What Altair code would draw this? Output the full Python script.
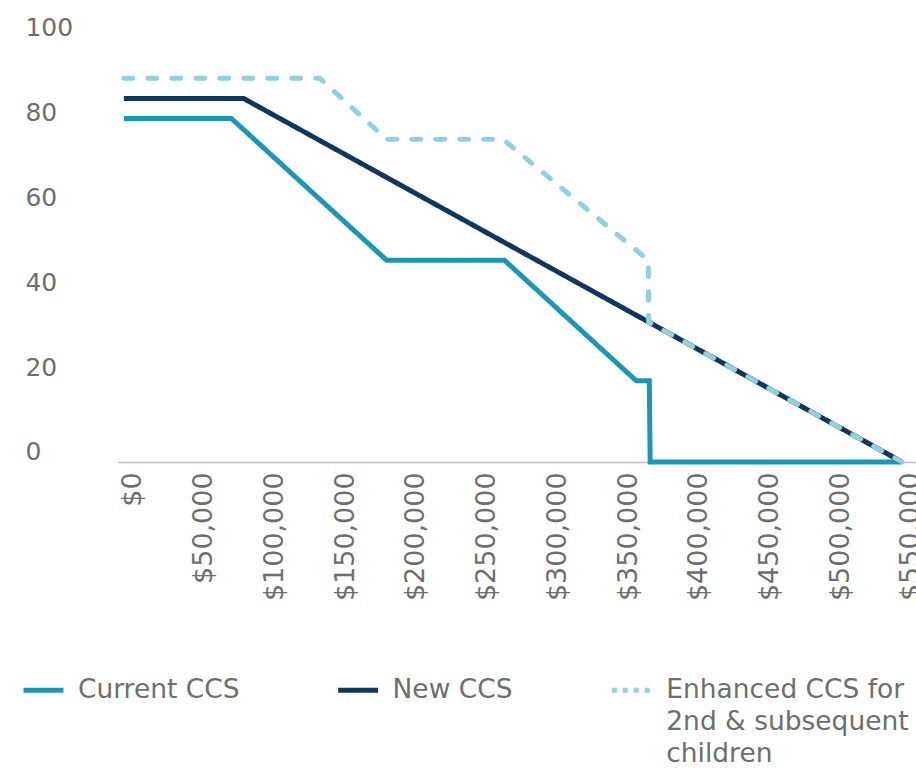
import altair as alt
import pandas as pd

# Series names
series_names = ["Current CCS", "New CCS", "Enhanced CCS for 2nd & subsequent children"]
series_colors = ["#1b97b6", "#0f365f", "#8fd1df"]

# Current CCS (family income $, subsidy %)
current_x = [0, 76000, 185700, 269000, 362200, 371400, 372000, 550000]
current_y = [80.9, 80.9, 47.5, 47.5, 19.1, 19.1, 0, 0]

# New CCS
new_x = [0, 84700, 550000]
new_y = [85.6, 85.6, 0]

# Enhanced CCS for 2nd & subsequent children
enh_x = [0, 138400, 185700, 268000, 370700, 370900, 550000]
enh_y = [90.4, 90.4, 76.0, 76.0, 47.5, 32.9, 0]

# Axis ticks
x_ticks = [0, 50000, 100000, 150000, 200000, 250000, 300000, 350000, 400000, 450000, 500000, 550000]
y_ticks = [0, 20, 40, 60, 80, 100]

rows = []
for name, xs, ys in [(series_names[0], current_x, current_y),
                     (series_names[1], new_x, new_y),
                     (series_names[2], enh_x, enh_y)]:
    for i, (xv, yv) in enumerate(zip(xs, ys)):
        rows.append({"series": name, "income": xv, "pct": yv, "order": i})
df = pd.DataFrame(rows)

FONT = "DejaVu Sans"
GREY = "#6e6e6e"
# every legend label gets 3 lines (zero-width padding lines) so all entries
# share the same height and the first line sits level with its symbol
ZW = "\\u200b"
LABEL_EXPR = (
    "datum.label == 'Enhanced CCS for 2nd & subsequent children' ? "
    "['Enhanced CCS for', '2nd & subsequent', 'children'] : "
    f"[datum.label, '{ZW}', '{ZW}']"
)

x_enc = alt.X(
    "income:Q",
    scale=alt.Scale(domain=[-4236, 559900], zero=False, nice=False),
    axis=alt.Axis(
        values=x_ticks, format="$,.0f", labelAngle=270, labelAlign="right",
        labelBaseline="middle", labelPadding=10, labelOffset=9, ticks=False,
        grid=False, domainColor="#bdbdbd", domainWidth=1.5,
        labelFontSize=27, labelColor=GREY, labelFont=FONT, title=None,
        labelOverlap=False, labelBound=False, labelFlush=False,
    ),
)
y_enc = alt.Y(
    "pct:Q",
    scale=alt.Scale(domain=[0, 100], nice=False),
    axis=alt.Axis(
        values=y_ticks, ticks=False, grid=False, domain=False,
        labelAlign="left", labelPadding=93, labelOffset=-10,
        labelFontSize=25, labelColor=GREY, labelFont=FONT, title=None,
    ),
)

legend_kw = dict(
    title=None, orient="none", legendX=-97, legendY=631,
    direction="horizontal", columnPadding=88,
    symbolType="stroke", symbolSize=1600, symbolStrokeWidth=5,
    labelFontSize=26.5, labelColor=GREY, labelFont=FONT, labelOffset=12,
    labelLimit=400, labelBaseline="middle", labelExpr=LABEL_EXPR,
)

color_enc = alt.Color(
    "series:N",
    scale=alt.Scale(domain=series_names, range=series_colors),
    legend=alt.Legend(**legend_kw),
)
dash_enc = alt.StrokeDash(
    "series:N",
    scale=alt.Scale(domain=series_names, range=[[1, 0], [1, 0], [5, 6]]),
    legend=alt.Legend(**legend_kw),
)

base = alt.Chart(df).encode(x=x_enc, y=y_enc, color=color_enc, order="order:Q")

l_cur = base.transform_filter(alt.datum.series == series_names[0]).mark_line(
    strokeWidth=5, strokeJoin="miter").encode(strokeDash=dash_enc)
l_new = base.transform_filter(alt.datum.series == series_names[1]).mark_line(
    strokeWidth=5, strokeJoin="miter").encode(strokeDash=dash_enc)
l_enh = base.transform_filter(alt.datum.series == series_names[2]).mark_line(
    strokeWidth=5, strokeDash=[9, 15], strokeCap="round", strokeJoin="round")

chart = alt.layer(l_cur, l_new, l_enh).properties(
    width=799, height=425, background="white",
    autosize=alt.AutoSizeParams(type="none"),
    padding={"left": 118, "top": 37, "right": 0, "bottom": 307},
).configure(style={"guide-label": {"lineHeight": 32}}).configure_view(stroke=None)

chart.save("out.html", embed_options={"renderer": "svg", "actions": False})
